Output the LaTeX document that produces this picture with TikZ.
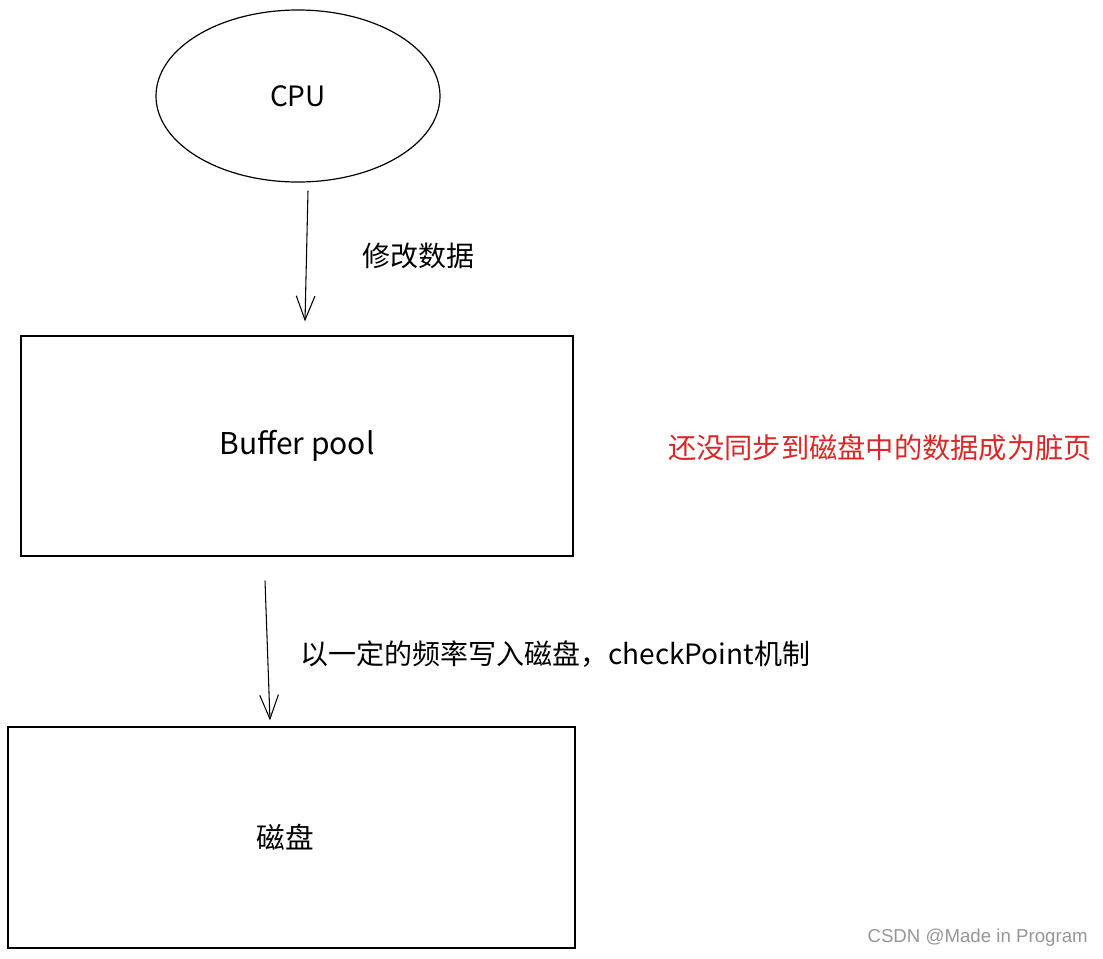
\documentclass[tikz,border=0pt]{standalone}
\usepackage{fontspec}
\setmainfont{Noto Sans CJK SC}
\newfontfamily\wmfont{Liberation Sans}
\usetikzlibrary{shapes.geometric,arrows.meta}
\definecolor{dirtyred}{RGB}{217,40,40}
\definecolor{wmgray}{RGB}{150,150,150}
\tikzset{
  box/.style={draw, line width=0.9pt, rectangle, inner sep=0pt},
  oval/.style={draw, line width=0.9pt, ellipse, inner sep=0pt, minimum width=213pt, minimum height=129pt},
  arr/.style={line width=0.8pt, -{Straight Barb[length=18pt,width=14pt,line width=0.8pt]}},
  lbl/.style={font=\fontsize{21}{25}\selectfont, inner sep=0pt},
}
\begin{document}
\begin{tikzpicture}[x=0.75pt,y=-0.75pt]
\useasboundingbox (0,0) rectangle (1103,958);
\node[oval, font=\fontsize{21}{25}\selectfont] (cpu) at (298,96) {CPU};
\node[box, minimum width=414pt, minimum height=165pt, font=\fontsize{22.5}{26}\selectfont] (buf) at (297,446) {Buffer pool};
\node[box, minimum width=425.25pt, minimum height=165.75pt, font=\fontsize{21.5}{25}\selectfont] (disk) at (291.5,837.5) {\hspace*{-9pt}磁盘};
\draw[arr] ([shift={(10,8)}]cpu.south) -- ([shift={(8,-14)}]buf.north);
\draw[arr] ([shift={(-32,24)}]buf.south) -- ([shift={(-21.5,-6)}]disk.north);
\node[lbl] (l1) at (418,256) {修改数据};
\node[lbl, anchor=west] (l2) at (300,654) {以一定的频率写入磁盘，checkPoint机制};
\node[lbl, text=dirtyred, font=\fontsize{21.2}{25}\selectfont] (dirty) at (880,448) {还没同步到磁盘中的数据成为脏页};
\node[anchor=east, inner sep=0pt, text=wmgray, font=\wmfont\fontsize{14}{16}\selectfont] (wm) at (1088,938) {CSDN @Made in Program};
\end{tikzpicture}
\end{document}
